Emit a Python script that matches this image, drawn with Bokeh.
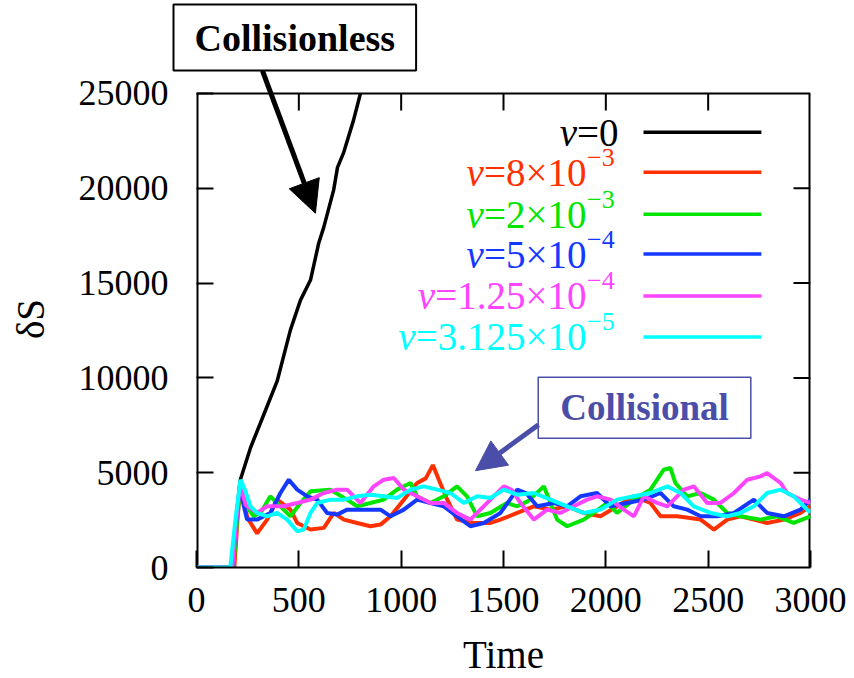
from bokeh.plotting import figure
from bokeh.models import (Range1d, SingleIntervalTicker, Label, Arrow, NormalHead, Span, Title)
from bokeh.core.properties import value
from bokeh.embed import file_html
from bokeh.resources import INLINE

# ---------------- data ----------------
t_black = [0, 170, 190, 215, 264, 329, 394, 459, 508, 557, 597, 622, 670, 689, 718, 767, 801]
s_black = [0, 0, 2000, 4650, 6316, 8070, 9825, 12530, 14100, 15158, 17100, 17950, 19900, 21100,
           21850, 23580, 25000]

t_red = [0, 185, 200, 212, 225, 250, 296, 345, 394, 459, 492, 557, 622, 671, 720, 785, 850, 899,
         948, 1013, 1078, 1120, 1155, 1185, 1220, 1273, 1355, 1436, 1485, 1567, 1648, 1730, 1811,
         1892, 1974, 2055, 2137, 2218, 2267, 2349, 2463, 2528, 2593, 2658, 2723, 2788, 2870, 2951,
         3000]
s_red = [0, 0, 2500, 4000, 3600, 2600, 1800, 2526, 3579, 3052, 2350, 2000, 2090, 2877, 2526, 2350,
         2175, 2263, 2700, 3579, 4456, 4700, 5400, 4600, 3700, 2526, 2350, 2350, 2526, 2877, 3228,
         3052, 3228, 2877, 2700, 3228, 3754, 3403, 2700, 2700, 2526, 2000, 2526, 2700, 2526, 2350,
         2526, 2877, 3228]

t_green = [0, 180, 200, 215, 240, 280, 320, 361, 426, 459, 508, 557, 654, 736, 785, 850, 915, 980,
           1046, 1078, 1143, 1208, 1273, 1322, 1371, 1436, 1517, 1567, 1620, 1697, 1762, 1811, 1892,
           1941, 2007, 2055, 2137, 2218, 2283, 2316, 2340, 2398, 2463, 2528, 2593, 2658, 2756, 2837,
           2918, 3000]
s_green = [0, 0, 2800, 4300, 3300, 2700, 3000, 3754, 3052, 2700, 3403, 4017, 4105, 3579, 3228, 3403,
           3579, 4105, 4456, 3754, 3403, 3754, 4280, 3754, 2700, 2877, 3403, 3228, 3500, 4280, 2526,
           2175, 2526, 2877, 3403, 2877, 3579, 4105, 5158, 5245, 4456, 3754, 3929, 3579, 2877, 2700,
           2526, 2700, 2350, 2700]

t_blue = [0, 175, 195, 212, 230, 247, 296, 361, 410, 451, 492, 541, 590, 638, 687, 736, 817, 899,
          948, 1013, 1078, 1143, 1208, 1273, 1338, 1404, 1485, 1567, 1610, 1665, 1746, 1811, 1876,
          1957, 2023, 2104, 2186, 2267, 2332, 2398, 2463, 2544, 2626, 2723, 2788, 2870, 2951, 3000]
s_blue = [0, 0, 2500, 4400, 3300, 2526, 2526, 2877, 3929, 4631, 4105, 3754, 3579, 2877, 2790, 3052,
          3052, 3052, 2700, 3052, 3579, 3403, 3228, 2700, 2175, 2350, 2877, 4105, 3929, 3228, 3403,
          3228, 3754, 3929, 3228, 3403, 3579, 3929, 3228, 3052, 2700, 2700, 2877, 3579, 2877, 2700,
          3052, 3579]

t_magenta = [0, 175, 195, 212, 240, 296, 345, 426, 492, 557, 622, 687, 736, 801, 866, 915, 964,
             1013, 1078, 1143, 1208, 1273, 1338, 1387, 1436, 1501, 1540, 1583, 1648, 1713, 1778,
             1843, 1909, 1957, 2023, 2088, 2137, 2186, 2251, 2300, 2381, 2430, 2495, 2560, 2626,
             2691, 2756, 2788, 2854, 2886, 2951, 3000]
s_magenta = [0, 0, 2500, 4400, 3300, 2877, 3228, 3228, 3403, 3579, 3929, 4105, 4105, 3403, 4280,
             4631, 4719, 4105, 3754, 3403, 3403, 2877, 2526, 3052, 3579, 4280, 4100, 3403, 2526,
             3052, 2877, 3228, 3579, 3754, 3579, 3052, 2700, 3754, 3403, 3228, 4105, 4280, 3403,
             3403, 3929, 4631, 4807, 4982, 4456, 3929, 3579, 3403]

t_cyan = [0, 165, 190, 215, 240, 264, 296, 345, 394, 443, 492, 524, 557, 590, 654, 720, 785, 850,
          915, 980, 1046, 1111, 1176, 1241, 1306, 1371, 1436, 1501, 1567, 1648, 1730, 1811, 1892,
          1974, 2055, 2137, 2218, 2300, 2365, 2430, 2512, 2593, 2658, 2723, 2788, 2854, 2918, 2984,
          3000]
s_cyan = [0, 0, 2500, 4631, 4000, 3228, 2877, 2700, 2877, 2526, 1912, 2000, 2877, 3403, 3579, 3579,
          3754, 3842, 3754, 3666, 4105, 4280, 4105, 3929, 3403, 3754, 3666, 4105, 3842, 3929, 3579,
          3228, 2877, 3052, 3579, 3754, 3929, 4280, 3929, 3228, 2877, 2700, 2877, 3228, 3929, 4105,
          3754, 3052, 2900]

legend_symbol = "ν"
legend_values = ["=0", "=8×10", "=2×10", "=5×10", "=1.25×10", "=3.125×10"]
legend_sups = ["", "−3", "−3", "−4", "−4", "−5"]
legend_colors = ["black", "#ff3000", "#00e600", "#1438ff", "#ff44ff", "#00ffff"]
legend_rows = [22950, 20840, 18630, 16530, 14320, 12160]

x_ticks = [0, 500, 1000, 1500, 2000, 2500, 3000]
y_ticks = [0, 5000, 10000, 15000, 20000, 25000]
X_MAX = 3000
Y_MAX = 25000

FONT = "Liberation Serif"
ANN_BLUE = "#4b4ea8"
TICK_PX = 17
LEG_PX = 39

# Times / Liberation Serif advance widths (em) used to place the italic symbol
ADV = {"=": 0.564, "×": 0.564, ".": 0.25}


def text_width_px(s, size):
    return sum(ADV.get(c, 0.5) for c in s) * size


# ---------------- figure ----------------
FRAME_TOP_PX = 70
FRAME_BOTTOM_PX = 568
PX_PER_Y = (FRAME_BOTTOM_PX - 93) / Y_MAX
PX_PER_X = (810 - 196) / X_MAX
y_top = (FRAME_BOTTOM_PX - FRAME_TOP_PX) / PX_PER_Y

p = figure(width=854, height=678, output_backend="svg", toolbar_location=None,
           x_range=Range1d(0, X_MAX), y_range=Range1d(0, y_top),
           min_border_left=196, min_border_right=44, min_border_top=FRAME_TOP_PX,
           min_border_bottom=110)
p.xgrid.visible = False
p.ygrid.visible = False
p.outline_line_color = None
p.background_fill_color = "white"
p.border_fill_color = "white"

p.xaxis.ticker = SingleIntervalTicker(interval=500, num_minor_ticks=0)
p.yaxis.ticker = SingleIntervalTicker(interval=5000, num_minor_ticks=0)

for ax in (p.xaxis[0], p.yaxis[0]):
    ax.major_tick_in = TICK_PX
    ax.major_tick_out = 0
    ax.minor_tick_in = 0
    ax.minor_tick_out = 0
    ax.axis_line_width = 2
    ax.major_tick_line_width = 2
    ax.major_label_text_font = FONT
    ax.major_label_text_font_size = "36px"
    ax.major_label_text_color = "black"
    ax.axis_label_text_font = FONT
    ax.axis_label_text_font_size = "39px"
    ax.axis_label_text_font_style = "normal"
    ax.axis_label_text_color = "black"
p.yaxis.axis_line_color = None

p.xaxis.axis_label = "Time"
p.yaxis.axis_label = "δS"
p.xaxis.major_label_standoff = 20
p.xaxis.axis_label_standoff = 18
p.yaxis.major_label_standoff = 28
p.yaxis.axis_label_standoff = 24

# plot box: top border, left/right borders, mirrored ticks on top and right
p.add_layout(Span(location=Y_MAX, dimension="width", line_color="black", line_width=2))
p.segment(x0=[0, X_MAX], y0=[0, 0], x1=[0, X_MAX], y1=[Y_MAX, Y_MAX],
          line_color="black", line_width=4)
top_t = x_ticks[1:-1]
p.segment(x0=top_t, y0=[Y_MAX] * len(top_t), x1=top_t,
          y1=[Y_MAX - TICK_PX / PX_PER_Y] * len(top_t), line_color="black", line_width=2)
right_t = y_ticks[1:-1]
p.segment(x0=[X_MAX] * len(right_t), y0=right_t, x1=[X_MAX - TICK_PX / PX_PER_X] * len(right_t),
          y1=right_t, line_color="black", line_width=2)

# ---------------- series ----------------
p.line(t_black, s_black, line_color="black", line_width=3.5)
p.line(t_red, s_red, line_color=legend_colors[1], line_width=4)
p.line(t_green, s_green, line_color=legend_colors[2], line_width=4)
p.line(t_blue, s_blue, line_color=legend_colors[3], line_width=4)
p.line(t_magenta, s_magenta, line_color=legend_colors[4], line_width=4)
p.line(t_cyan, s_cyan, line_color=legend_colors[5], line_width=4)

# ---------------- legend (manual) ----------------
x_text_end = 1905
x_full_end = 2062
p.segment(x0=[2184] * 6, y0=legend_rows, x1=[2760] * 6, y1=legend_rows,
          line_color=legend_colors, line_width=3.5)
main_x = [x_full_end] + [x_text_end] * 5
p.text(x=main_x, y=legend_rows, text=legend_values, text_color=legend_colors,
       text_font=value(FONT), text_font_size=value(f"{LEG_PX}px"),
       text_align="right", text_baseline="middle")
sym_x = [mx - text_width_px(v, LEG_PX) / PX_PER_X for mx, v in zip(main_x, legend_values)]
p.text(x=sym_x, y=legend_rows, text=[legend_symbol] * 6, text_color=legend_colors,
       text_font=value(FONT), text_font_size=value(f"{LEG_PX}px"), text_font_style="italic",
       text_align="right", text_baseline="middle")
p.text(x=[x_text_end + 3] * 5, y=legend_rows[1:], text=legend_sups[1:],
       text_color=legend_colors[1:], text_font=value(FONT), text_font_size=value("26px"),
       text_align="left", text_baseline="middle", y_offset=-15)

# ---------------- annotations ----------------
p.title = Title(text="Collisionless", align="left", offset=-23, standoff=0,
                text_font=FONT, text_font_size="38px", text_font_style="bold",
                text_color="black", background_fill_color="white",
                border_line_color="black", border_line_width=2, padding=(21, 12))
p.add_layout(Arrow(end=NormalHead(size=32, fill_color="black", line_color="black"),
                   x_start=322, y_start=26210, x_end=581, y_end=18684,
                   line_color="black", line_width=5))

lab2 = Label(x=2189, y=8421, text="Collisional", text_font=FONT, text_font_size="37px",
             text_font_style="bold", text_color=ANN_BLUE, text_align="center",
             text_baseline="middle", background_fill_color="white",
             border_line_color=ANN_BLUE, border_line_width=1.5, padding=(22, 10))
p.add_layout(lab2)
p.add_layout(Arrow(end=NormalHead(size=30, fill_color=ANN_BLUE, line_color=ANN_BLUE),
                   x_start=1671, y_start=7526, x_end=1363, y_end=5105,
                   line_color=ANN_BLUE, line_width=5))

open("out.html", "w").write(file_html(p, INLINE))
